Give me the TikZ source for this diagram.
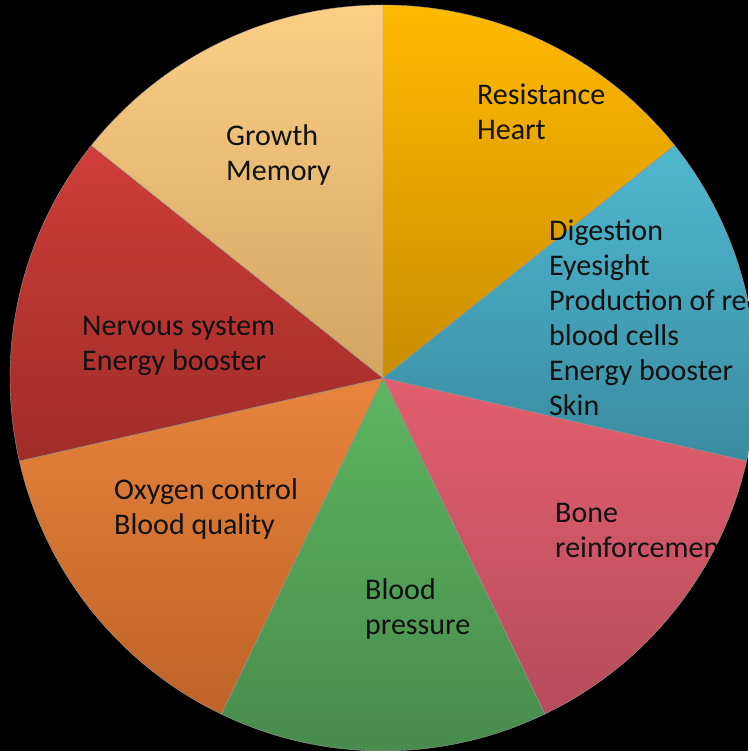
\documentclass[tikz,border=0pt]{standalone}
\usepackage{fontspec}
\setmainfont{Carlito}
\definecolor{goldT}{HTML}{FFBA00}\definecolor{goldB}{HTML}{C98C00}
\definecolor{cyanT}{HTML}{4FB8D0}\definecolor{cyanB}{HTML}{3A8BA0}
\definecolor{pinkT}{HTML}{E25F6E}\definecolor{pinkB}{HTML}{B64C5C}
\definecolor{greenT}{HTML}{5DB560}\definecolor{greenB}{HTML}{488A4C}
\definecolor{orangeT}{HTML}{E8843C}\definecolor{orangeB}{HTML}{BE6228}
\definecolor{redT}{HTML}{CE3E38}\definecolor{redB}{HTML}{A02C28}
\definecolor{beigeT}{HTML}{FCCF85}\definecolor{beigeB}{HTML}{D2A462}
\definecolor{txt}{HTML}{111111}
\tikzset{
  lbl/.style={anchor=base west, align=left, inner sep=0pt, text=txt,
    font=\fontsize{30}{35}\selectfont},
  slice/.style={draw=black!40, line width=0.4pt}
}
\newcommand{\pieslice}[4]{%
  \shade[slice, top color=#3, bottom color=#4] (383,373) -- ++(#1:373) arc[start angle=#1, end angle=#2, radius=373] -- cycle;}
\begin{document}
\begin{tikzpicture}[x=1pt,y=1pt]
\fill[black] (0,0) rectangle (748,751);
\useasboundingbox (0,0) rectangle (748,751);
\pieslice{38.571}{90}{goldT}{goldB}
\pieslice{-12.857}{38.571}{cyanT}{cyanB}
\pieslice{-64.286}{-12.857}{pinkT}{pinkB}
\pieslice{-115.714}{-64.286}{greenT}{greenB}
\pieslice{-167.143}{-115.714}{orangeT}{orangeB}
\pieslice{-218.571}{-167.143}{redT}{redB}
\pieslice{-270}{-218.571}{beigeT}{beigeB}
\begin{scope}
\clip (383,373) circle (373);
\node[lbl] (res) at (477,611) {Resistance\\Heart};
\node[lbl] (dig) at (549,335) {Digestion\\Eyesight\\Production of red\\blood cells\\Energy booster\\Skin};
\node[lbl] (bone) at (555,193) {Bone\\reinforcement};
\node[lbl] (bp) at (365,116) {Blood\\pressure};
\node[lbl] (oxy) at (114,216.5) {Oxygen control\\Blood quality};
\node[lbl] (nerv) at (82,380) {Nervous system\\Energy booster};
\node[lbl] (grow) at (226,570) {Growth\\Memory};
\end{scope}
\end{tikzpicture}
\end{document}
